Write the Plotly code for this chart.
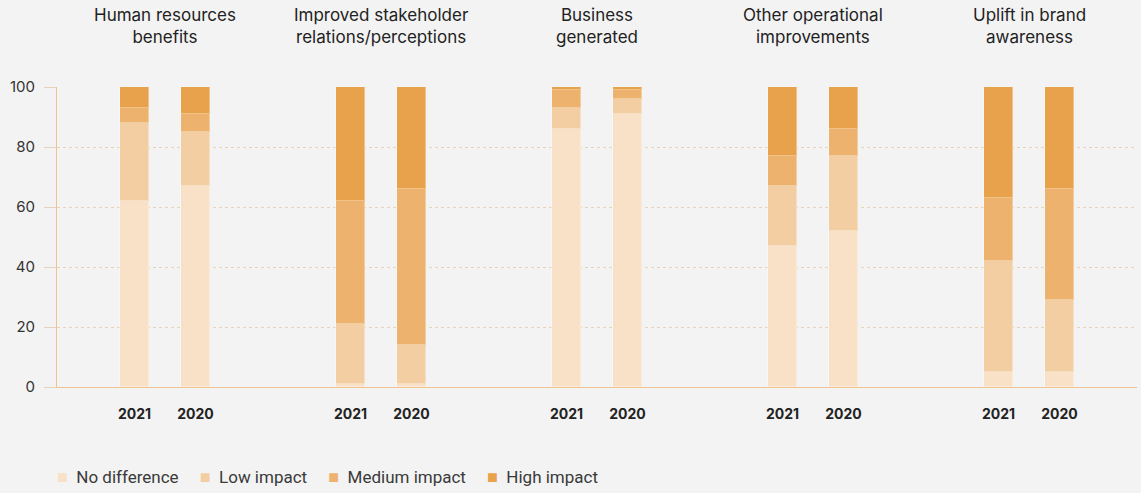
import plotly.graph_objects as go
from plotly.subplots import make_subplots

# categories
groups = [
    "Human resources<br>benefits",
    "Improved stakeholder<br>relations/perceptions",
    "Business<br>generated",
    "Other operational<br>improvements",
    "Uplift in brand<br>awareness",
]
years = ["2021", "2020"]

# values per group as [2021, 2020] (% of respondents)
no_difference = [[62, 67], [1, 1], [86, 91], [47, 52], [5, 5]]
low_impact = [[26, 18], [20, 13], [7, 5], [20, 25], [37, 24]]
medium_impact = [[5, 6], [41, 52], [6, 3], [10, 9], [21, 37]]
high_impact = [[7, 9], [38, 34], [1, 1], [23, 14], [37, 34]]

SERIES = [
    ("No difference", no_difference, "#f8e1c6"),
    ("Low impact", low_impact, "#f3cea3"),
    ("Medium impact", medium_impact, "#ecb26e"),
    ("High impact", high_impact, "#e8a24c"),
]

BG = "#f3f3f3"
AXIS_LINE = "#f0c490"
GRID = "#e8d2bb"
TITLE_FONT = "Inter, sans-serif"

fig = make_subplots(rows=1, cols=len(groups), shared_yaxes=True, horizontal_spacing=0)

for i, group in enumerate(groups):
    for name, values, color in SERIES:
        fig.add_trace(
            go.Bar(
                x=years,
                y=values[i],
                name=name,
                showlegend=False,
                marker={"color": color, "line": {"color": "rgba(255,255,255,0.35)", "width": 1}},
                width=0.49,
                hovertemplate=f"{name}: %{{y}}%<extra></extra>",
            ),
            row=1,
            col=i + 1,
        )
    dom = fig.layout[f"xaxis{'' if i == 0 else i + 1}"].domain
    fig.add_annotation(
        text=group,
        x=(dom[0] + dom[1]) / 2,
        y=1,
        xref="paper",
        yref="paper",
        xanchor="center",
        yanchor="bottom",
        yshift=38,
        showarrow=False,
        font={"family": TITLE_FONT, "size": 17, "color": "#222"},
    )

# legend drawn as one line of text so the swatch sits close to its label
legend_parts = [
    f'<span style="color:{color};font-size:18px">\u25a0</span>\u00a0\u00a0{name}'
    for name, _, color in SERIES
]
fig.add_annotation(
    text="\u00a0\u00a0\u00a0\u00a0\u00a0".join(legend_parts),
    x=-0.0015,
    y=-0.297,
    xref="paper",
    yref="paper",
    xanchor="left",
    yanchor="middle",
    showarrow=False,
    font={"family": "Roboto, sans-serif", "size": 17, "color": "#3a3a3a"},
)

fig.update_xaxes(
    type="category",
    range=[-1.27, 2.27],
    showgrid=False,
    showline=True,
    linecolor=AXIS_LINE,
    linewidth=1,
    ticks="",
    ticklabelstandoff=14,
    tickfont={"family": TITLE_FONT, "size": 14, "color": "#222", "weight": "bold"},
    fixedrange=True,
)
fig.update_yaxes(
    range=[0, 100],
    dtick=20,
    showgrid=True,
    gridcolor=GRID,
    griddash="dot",
    gridwidth=1,
    zeroline=False,
    showline=False,
    ticks="",
    fixedrange=True,
)
fig.update_yaxes(
    showline=True,
    linecolor=AXIS_LINE,
    ticks="outside",
    ticklen=12,
    tickcolor=GRID,
    tickfont={"family": TITLE_FONT, "size": 15, "color": "#333"},
    ticklabelstandoff=6,
    row=1,
    col=1,
)

fig.update_layout(
    width=1141,
    height=493,
    barmode="stack",
    paper_bgcolor=BG,
    plot_bgcolor=BG,
    margin={"l": 57, "r": 4, "t": 87, "b": 106},
    bargap=0,
    showlegend=False,
)

fig.write_html(
    "out.html",
    config={"displayModeBar": False},
    post_script="document.body.style.margin='0';document.body.style.background='#f3f3f3';",
)
